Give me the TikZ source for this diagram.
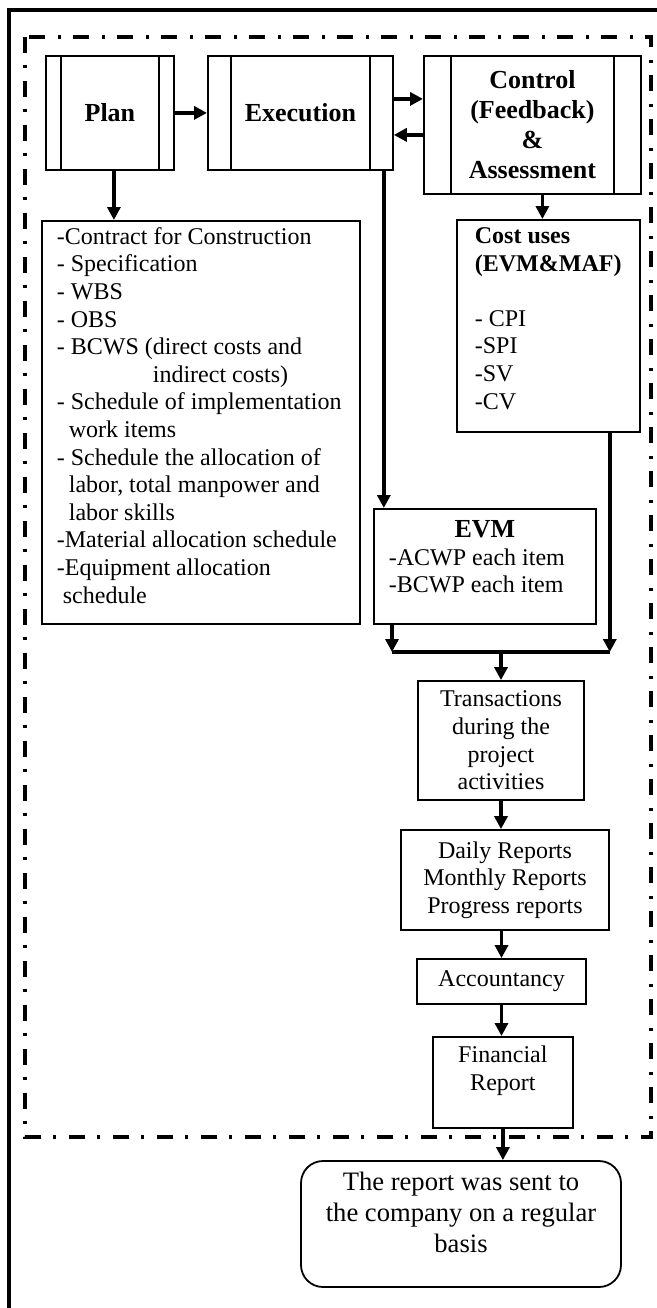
\documentclass[tikz,border=0pt]{standalone}
\usepackage{fontspec}
\setmainfont{Liberation Serif}
\usepackage{tikz}
\usetikzlibrary{arrows.meta}

\begin{document}
\begin{tikzpicture}[x = 0.5pt, y = -0.5pt,
		box/.style = {draw, line width = 0.9pt, inner sep = 1pt, font = \fontsize{12}{13.8}\selectfont},
		procbox/.style = {draw, line width = 0.9pt, align = center, anchor = north west, font = \fontsize{13}{15}\selectfont\bfseries,
			path picture = {
				\draw[line width = 0.9pt] ([xshift = #1]path picture bounding box.north west) -- ([xshift = #1]path picture bounding box.south west);
				\draw[line width = 0.9pt] ([xshift = -#1]path picture bounding box.north east) -- ([xshift = -#1]path picture bounding box.south east);
			}},
		arr/.style = {-{Triangle[width = 6.5pt, length = 6.5pt]}, line width = 1.9pt}]
	\useasboundingbox (0, 0) rectangle (657, 1308);
	\draw[line width = 2.4pt] (662, 10) -- (9, 10) -- (9, 1312);
	\draw[line width = 1.8pt, dash pattern = on 8pt off 6pt on 1.5pt off 6.5pt] (25, 37) rectangle (651, 1137);
	\node[procbox = 7.5pt, minimum width = 64pt, minimum height = 57pt] (plan) at (45, 55) {Plan};
	\node[procbox = 11.5pt, minimum width = 92.5pt, minimum height = 57pt] (exec) at (207, 55) {Execution};
	\node[procbox = 13.5pt, minimum width = 108.5pt, minimum height = 69pt] (ctrl) at (423, 55) {Control\\(Feedback)\\\&\\Assessment};
	\node[box, anchor = north west, inner xsep = 7.5pt, inner ysep = 3.2pt] (contract) at (41, 220) {\parbox[t][195pt][t]{144pt}{\raggedright
		-Contract for Construction\\
		- Specification\\
		- WBS\\
		- OBS\\
		- BCWS (direct costs and\\
		\hspace*{48pt}indirect costs)\\
		- Schedule of implementation\\
		\hspace*{6pt}work items\\
		- Schedule the allocation of\\
		\hspace*{6pt}labor, total manpower and\\
		\hspace*{6pt}labor skills\\
		-Material allocation schedule\\
		-Equipment allocation\\
		\hspace*{3pt}schedule}};
	\node[box, anchor = north west, inner xsep = 9pt, inner ysep = 3.9pt] (cost) at (456, 219) {\parbox[t][98.2pt][t]{73.5pt}{\raggedright
		\textbf{Cost uses}\\
		\textbf{(EVM\&MAF)}\\[13.8pt]
		- CPI\\
		-SPI\\
		-SV\\
		-CV}};
	\node[box, anchor = north west, inner xsep = 7.5pt, inner ysep = 5.8pt] (evm) at (373, 508) {\parbox[t][45.9pt][t]{96pt}{{\centering\fontsize{13}{15}\selectfont\bfseries EVM\par}
		-ACWP each item\\
		-BCWP each item}};
	\node[box, align = center, minimum width = 83pt, minimum height = 59.5pt] (trans) at (501, 740.5) {Transactions\\during the\\project\\activities};
	\node[box, align = center, minimum width = 104pt, minimum height = 50pt] (daily) at (505, 880) {Daily Reports\\Monthly Reports\\Progress reports};
	\node[box, minimum width = 84.5pt, minimum height = 22.5pt] (acct) at (501.5, 981.5) {Accountancy};
	\node[box, anchor = north west, inner xsep = 3pt, inner ysep = 4.7pt] (fin) at (432, 1036) {\parbox[t][36.1pt][t]{64pt}{\centering Financial\\Report}};
	\node[box, align = center, rounded corners = 11pt, minimum width = 160pt, minimum height = 63pt, font = \fontsize{13.3}{15.5}\selectfont] (final) at (461, 1224) {The report was sent to\\the company on a regular\\basis\\[-4pt]};
	\draw[arr] (plan.east) -- (exec.west);
	\draw[arr] ([yshift = 7pt]exec.east) -- ([yshift = 7pt]exec.east -| ctrl.west);
	\draw[arr] ([yshift = -11pt]exec.east -| ctrl.west) -- ([yshift = -11pt]exec.east);
	\draw[arr] ([xshift = 2pt]plan.south) -- ([xshift = 2pt]plan.south |- contract.north);
	\draw[arr] ([xshift = 5pt]ctrl.south) -- ([xshift = 5pt]ctrl.south |- cost.north);
	\draw[arr] ([xshift = -5pt]exec.south east) -- ([xshift = -5pt]exec.south east |- evm.north);
	\coordinate (join) at (501, 652);
	\coordinate (jl) at ([xshift = 9.5pt]evm.south west |- join);
	\coordinate (jr) at ([xshift = -15.5pt]cost.south east |- join);
	\draw[arr] ([xshift = 9.5pt]evm.south west) -- (jl);
	\draw[arr] ([xshift = -15.5pt]cost.south east) -- (jr);
	\draw[line width = 1.9pt] (jl) -- (jr);
	\draw[arr] (join) -- (trans.north);
	\draw[arr] (trans.south) -- (trans.south |- daily.north);
	\draw[arr] (acct.north |- daily.south) -- (acct.north);
	\draw[arr] (acct.south) -- (acct.south |- fin.north);
	\draw[arr] (fin.south) -- (fin.south |- final.north);
\end{tikzpicture}
\end{document}
